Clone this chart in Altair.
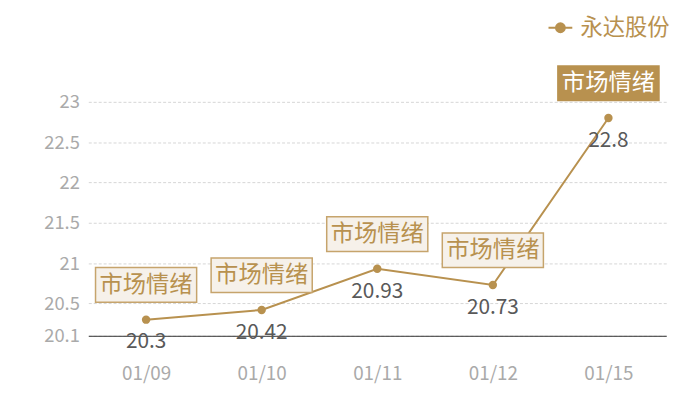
import altair as alt
import pandas as pd

dates = ["01/09", "01/10", "01/11", "01/12", "01/15"]
values = [20.3, 20.42, 20.93, 20.73, 22.8]
notes = ["市场情绪", "市场情绪", "市场情绪", "市场情绪", "市场情绪"]
highlight = [False, False, False, False, True]
series_name = "永达股份"
y_ticks = [20.1, 20.5, 21, 21.5, 22, 22.5, 23]

df = pd.DataFrame({
    "date": dates,
    "value": values,
    "note": notes,
    "hl": highlight,
    "series": [series_name] * len(dates),
})

GOLD = "#b8914f"
BOX_FILL = "#f6f1ea"
BOX_STROKE = "#c6a46c"
FONT = "Noto Sans CJK SC"

X = alt.X("date:N", sort=dates, title=None,
          scale=alt.Scale(type="point", padding=0.5),
          axis=alt.Axis(labelAngle=0, ticks=False, domain=True, domainColor="#333333",
                        domainWidth=1, labelColor="#aaaaaa", labelFontSize=19,
                        labelFont=FONT, labelPadding=29, grid=False))
Y = alt.Y("value:Q", title=None,
          scale=alt.Scale(domain=[20.1, 23], nice=False, zero=False),
          axis=alt.Axis(values=y_ticks, ticks=False, domain=False, grid=True,
                        labelExpr="toString(datum.value)",
                        gridColor="#d6d6d6", gridDash=[3, 2], gridWidth=1,
                        labelColor="#aaaaaa", labelFontSize=18.5, labelFont=FONT,
                        labelPadding=9))

legend_path = ("M-1.5,0L-0.6,0M0.6,0L1.5,0"
               "M-0.56,0A0.56,0.56 0 1,0 0.56,0A0.56,0.56 0 1,0 -0.56,0Z")

base = alt.Chart(df)

line = base.mark_line(strokeWidth=2).encode(
    x=X, y=Y,
    color=alt.Color("series:N", scale=alt.Scale(range=[GOLD]),
                    legend=alt.Legend(title=None, orient="none", legendX=465, legendY=-86,
                                      symbolType=legend_path, symbolSize=256,
                                      symbolStrokeWidth=2, symbolFillColor=GOLD,
                                      symbolStrokeColor=GOLD, labelColor=GOLD,
                                      labelFontSize=22.5, labelFont=FONT, labelOffset=9,
                                      labelLimit=300, padding=0)),
)

points = base.mark_circle(size=72, opacity=1, color=GOLD).encode(x=X, y=Y)

value_labels = base.mark_text(dy=23, fontSize=21, font=FONT, color="#595959").encode(
    x=X, y=Y, text="value:N")

rect_path = "M-1,-0.343L1,-0.343L1,0.343L-1,0.343Z"
boxes = base.mark_point(shape=rect_path, size=10404, yOffset=-35, strokeWidth=1.5,
                        opacity=1, filled=True).encode(
    x=X, y=Y,
    fill=alt.condition("datum.hl", alt.value(GOLD), alt.value(BOX_FILL)),
    stroke=alt.condition("datum.hl", alt.value(GOLD), alt.value(BOX_STROKE)),
)

box_text = base.mark_text(dy=-35, fontSize=23.5, font=FONT).encode(
    x=X, y=Y, text="note:N",
    color=alt.condition("datum.hl", alt.value("#ffffff"), alt.value(GOLD)),
)

chart = alt.layer(line, points, value_labels, boxes, box_text).properties(
    width=583, height=236,
    autosize=alt.AutoSizeParams(type="none"),
    padding={"left": 81, "top": 93, "right": 26, "bottom": 50},
).configure_view(stroke=None)

chart.save("out.html", embed_options={"renderer": "svg", "actions": False})
